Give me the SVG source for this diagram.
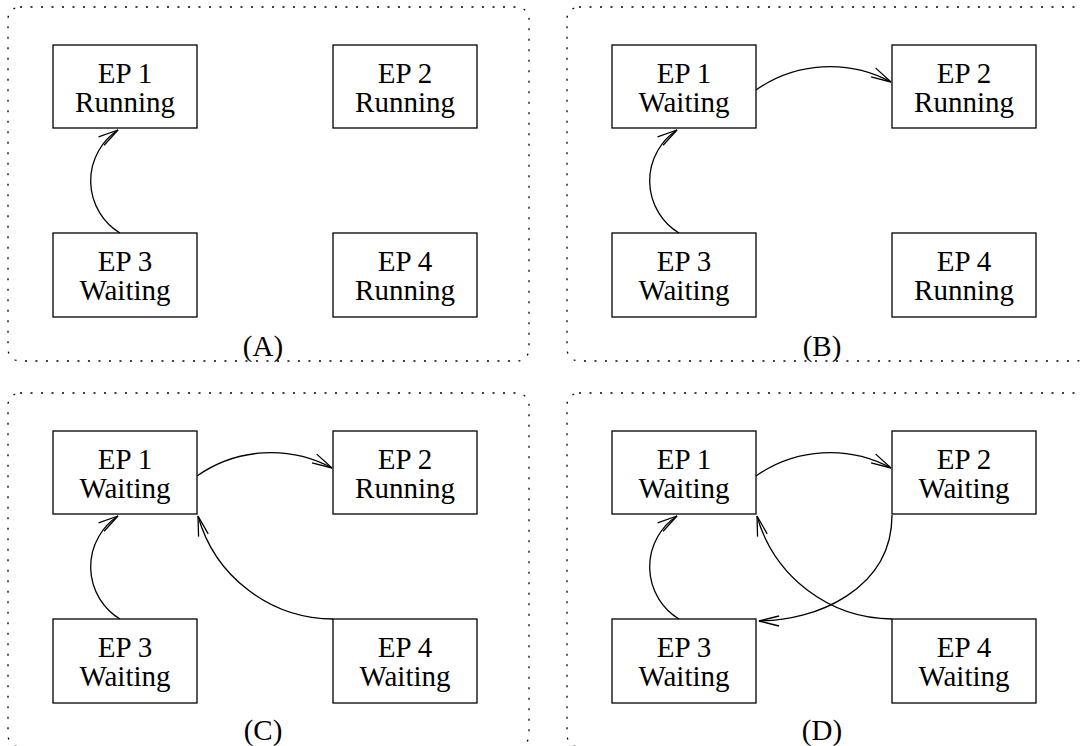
<svg xmlns="http://www.w3.org/2000/svg" width="1080" height="746" viewBox="0 0 1080 746">
<style>
.panel{fill:none;stroke:#000;stroke-width:1.3;stroke-dasharray:2 8.5}
.box{fill:#fff;stroke:#000;stroke-width:1.3}
.t{font-family:"Liberation Serif","Times New Roman",serif;font-size:29px;text-anchor:middle;fill:#000}
.c{fill:none;stroke:#000;stroke-width:1.3;marker-end:url(#ah)}
</style>
<defs>
<marker id="ah" markerUnits="userSpaceOnUse" markerWidth="24" markerHeight="14" viewBox="-22 -7 24 14" refX="0" refY="0" orient="auto">
<path d="M-20,-5 L0,0 L-20,5" fill="none" stroke="#000" stroke-width="1.3"/>
</marker>
</defs>
<rect width="1080" height="746" fill="#fff"/>

<g id="panelA">
<rect class="panel" x="8" y="7" width="521" height="354" rx="12"/>
<text class="t" x="263" y="356">(A)</text>
<g id="A-ep1"><rect class="box" x="53" y="45" width="144" height="83"/><text class="t" x="125" y="83">EP 1</text><text class="t" x="125" y="112">Running</text></g>
<g id="A-ep2"><rect class="box" x="333" y="45" width="144" height="83"/><text class="t" x="405" y="83">EP 2</text><text class="t" x="405" y="112">Running</text></g>
<g id="A-ep3"><rect class="box" x="53" y="233" width="144" height="84"/><text class="t" x="125" y="271">EP 3</text><text class="t" x="125" y="300">Waiting</text></g>
<g id="A-ep4"><rect class="box" x="333" y="233" width="144" height="84"/><text class="t" x="405" y="271">EP 4</text><text class="t" x="405" y="300">Running</text></g>
</g>

<g id="panelB">
<rect class="panel" x="567" y="7" width="521" height="354" rx="12"/>
<text class="t" x="822" y="356">(B)</text>
<g id="B-ep1"><rect class="box" x="612" y="45" width="144" height="83"/><text class="t" x="684" y="83">EP 1</text><text class="t" x="684" y="112">Waiting</text></g>
<g id="B-ep2"><rect class="box" x="892" y="45" width="144" height="83"/><text class="t" x="964" y="83">EP 2</text><text class="t" x="964" y="112">Running</text></g>
<g id="B-ep3"><rect class="box" x="612" y="233" width="144" height="84"/><text class="t" x="684" y="271">EP 3</text><text class="t" x="684" y="300">Waiting</text></g>
<g id="B-ep4"><rect class="box" x="892" y="233" width="144" height="84"/><text class="t" x="964" y="271">EP 4</text><text class="t" x="964" y="300">Running</text></g>
</g>

<g id="panelC">
<rect class="panel" x="8" y="393" width="521" height="354" rx="12"/>
<text class="t" x="263" y="740">(C)</text>
<g id="C-ep1"><rect class="box" x="53" y="431" width="144" height="83"/><text class="t" x="125" y="469">EP 1</text><text class="t" x="125" y="498">Waiting</text></g>
<g id="C-ep2"><rect class="box" x="333" y="431" width="144" height="83"/><text class="t" x="405" y="469">EP 2</text><text class="t" x="405" y="498">Running</text></g>
<g id="C-ep3"><rect class="box" x="53" y="619" width="144" height="84"/><text class="t" x="125" y="657">EP 3</text><text class="t" x="125" y="686">Waiting</text></g>
<g id="C-ep4"><rect class="box" x="333" y="619" width="144" height="84"/><text class="t" x="405" y="657">EP 4</text><text class="t" x="405" y="686">Waiting</text></g>
</g>

<g id="panelD">
<rect class="panel" x="567" y="393" width="521" height="354" rx="12"/>
<text class="t" x="822" y="740">(D)</text>
<g id="D-ep1"><rect class="box" x="612" y="431" width="144" height="83"/><text class="t" x="684" y="469">EP 1</text><text class="t" x="684" y="498">Waiting</text></g>
<g id="D-ep2"><rect class="box" x="892" y="431" width="144" height="83"/><text class="t" x="964" y="469">EP 2</text><text class="t" x="964" y="498">Waiting</text></g>
<g id="D-ep3"><rect class="box" x="612" y="619" width="144" height="84"/><text class="t" x="684" y="657">EP 3</text><text class="t" x="684" y="686">Waiting</text></g>
<g id="D-ep4"><rect class="box" x="892" y="619" width="144" height="84"/><text class="t" x="964" y="657">EP 4</text><text class="t" x="964" y="686">Waiting</text></g>
</g>

<g id="connectors">
<path class="c" d="M120,233 A61,61 0 0 1 118,130"/>
<path class="c" d="M679,233 A61,61 0 0 1 677,130"/>
<path class="c" d="M756,90 A129,129 0 0 1 891,82"/>
<path class="c" d="M120,619 A61,61 0 0 1 118,516"/>
<path class="c" d="M197,476 A129,129 0 0 1 332,468"/>
<path class="c" d="M333,619 A141,141 0 0 1 198,516"/>
<path class="c" d="M679,619 A61,61 0 0 1 677,516"/>
<path class="c" d="M756,476 A129,129 0 0 1 891,468"/>
<path class="c" d="M892,619 A141,141 0 0 1 757,516"/>
<path class="c" d="M892,515 C892,590 815,621 759,621"/>
</g>
</svg>
